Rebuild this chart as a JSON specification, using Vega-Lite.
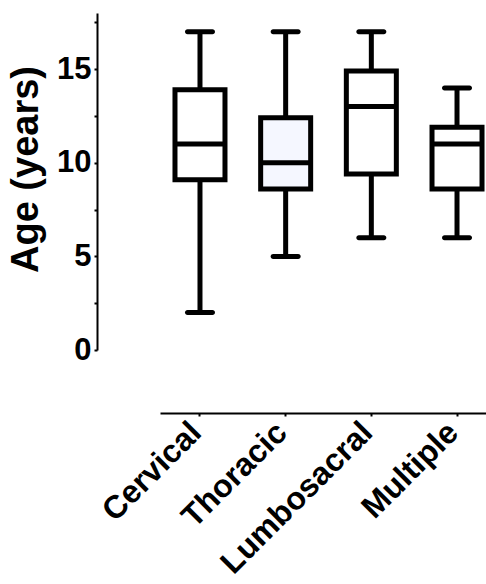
{
  "$schema": "https://vega.github.io/schema/vega-lite/v6.json",
  "width": 326,
  "height": 337,
  "autosize": "none",
  "padding": {"left": 160, "top": 13, "right": 0, "bottom": 234},
  "background": "white",
  "data": {"values": [
    {"region": "Cervical", "min": 2, "q1": 9.1, "median": 11, "q3": 13.9, "max": 17, "fill": "#ffffff"},
    {"region": "Thoracic", "min": 5, "q1": 8.6, "median": 10, "q3": 12.4, "max": 17, "fill": "#f5f7ff"},
    {"region": "Lumbosacral", "min": 6, "q1": 9.4, "median": 13, "q3": 14.9, "max": 17, "fill": "#ffffff"},
    {"region": "Multiple", "min": 6, "q1": 8.6, "median": 11, "q3": 11.9, "max": 14, "fill": "#ffffff"}
  ]},
  "encoding": {
    "x": {
      "field": "region", "type": "nominal", "sort": null,
      "scale": {"range": [0, 337], "paddingInner": 0.4, "paddingOuter": 0.1667},
      "axis": {
        "title": null, "offset": 63, "labelAngle": -45, "labelAlign": "right", "labelBaseline": "middle",
        "labelPadding": 11, "labelOffset": -4, "labelFont": "Liberation Sans", "labelFontWeight": "bold", "labelFontSize": 32,
        "labelLimit": 0, "labelOverlap": false,
        "labelColor": "black", "domainColor": "black", "domainWidth": 2, "tickColor": "black",
        "tickWidth": 2, "tickSize": 3, "grid": false
      }
    }
  },
  "layer": [
    {
      "mark": {"type": "rule", "color": "black", "strokeWidth": 5},
      "encoding": {
        "y": {
          "field": "min", "type": "quantitative",
          "scale": {"domain": [0, 18], "nice": false, "zero": true},
          "axis": {
            "title": "Age (years)", "offset": 63, "values": [0, 2.5, 5, 7.5, 10, 12.5, 15, 17.5],
            "labelExpr": "datum.value % 5 === 0 ? datum.label : ''",
            "labelFont": "Liberation Sans", "labelFontWeight": "bold", "labelFontSize": 31,
            "labelColor": "black", "labelPadding": 3, "domainColor": "black", "domainWidth": 2,
            "tickColor": "black", "tickWidth": 2, "tickSize": 3, "grid": false,
            "titleFont": "Liberation Sans", "titleFontWeight": "bold", "titleFontSize": 38,
            "titleColor": "black", "titlePadding": 11, "titleY": 156
          }
        },
        "y2": {"field": "max"}
      }
    },
    {
      "mark": {"type": "bar", "stroke": "black", "strokeWidth": 5, "width": 50},
      "encoding": {
        "y": {"field": "q1", "type": "quantitative"},
        "y2": {"field": "q3"},
        "fill": {"field": "fill", "type": "nominal", "scale": null}
      }
    },
    {
      "mark": {"type": "tick", "color": "black", "thickness": 5, "size": 50, "opacity": 1},
      "encoding": {"y": {"field": "median", "type": "quantitative"}}
    },
    {
      "mark": {"type": "tick", "color": "black", "thickness": 5, "size": 30, "opacity": 1, "cornerRadius": 2.5},
      "encoding": {"y": {"field": "min", "type": "quantitative"}}
    },
    {
      "mark": {"type": "tick", "color": "black", "thickness": 5, "size": 30, "opacity": 1, "cornerRadius": 2.5},
      "encoding": {"y": {"field": "max", "type": "quantitative"}}
    }
  ],
  "config": {"view": {"stroke": null}}
}
